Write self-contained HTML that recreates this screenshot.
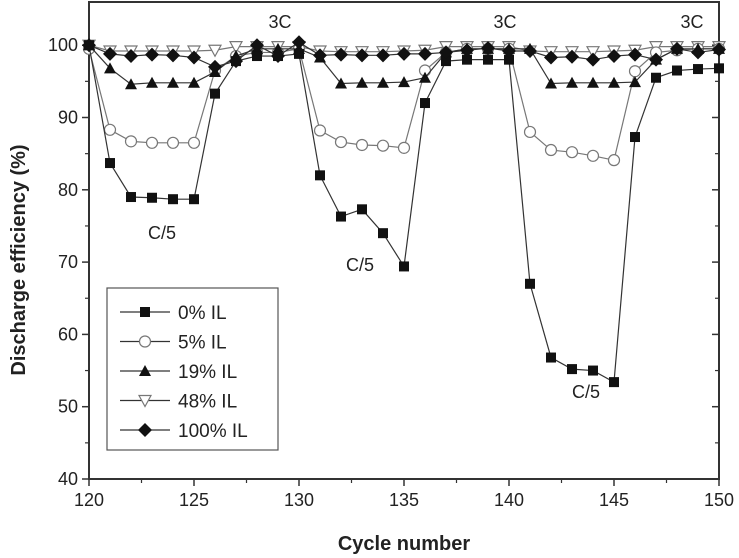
<!DOCTYPE html>
<html><head><meta charset="utf-8"><style>
body{margin:0;background:#fff}
svg{display:block;font-family:"Liberation Sans",sans-serif}
</style></head><body>
<svg id="c" width="739" height="558"></svg>
<script>
const cycles=[120,121,122,123,124,125,126,127,128,129,130,131,132,133,134,135,136,137,138,139,140,141,142,143,144,145,146,147,148,149,150];
const s0=[100,83.7,79,78.9,78.7,78.7,93.3,97.8,98.5,98.5,98.8,82,76.3,77.3,74,69.4,92,97.8,98,98,98,67,56.8,55.2,55,53.4,87.3,95.5,96.5,96.7,96.8];
const s5=[99.5,88.3,86.7,86.5,86.5,86.5,96.5,98.5,99,99,99.5,88.2,86.6,86.2,86.1,85.8,96.5,99,99.5,99.5,99.5,88,85.5,85.2,84.7,84.1,96.4,99,99.3,99.5,99.5];
const s19=[100,96.8,94.6,94.8,94.8,94.8,96.3,98.5,99.5,99.5,99.5,98.3,94.7,94.8,94.8,94.9,95.5,99,99.5,99.5,99.5,99.5,94.7,94.8,94.8,94.8,94.9,98,99.5,99.5,99.5];
const s48=[100,99.2,99.2,99.2,99.2,99.2,99.3,99.8,99.8,99.8,99.8,99.2,99.1,99.1,99.1,99.2,99.3,99.8,99.8,99.8,99.8,99.2,99.1,99.1,99.1,99.2,99.3,99.8,99.8,99.8,99.8];
const s100=[100,98.8,98.5,98.7,98.6,98.3,97,97.8,100,98.5,100.4,98.6,98.7,98.6,98.6,98.8,98.8,99,99.3,99.6,99.2,99.2,98.3,98.4,98,98.5,98.7,98,99.5,99,99.4];
const xTicks=[120,125,130,135,140,145,150];
const yTicks=[40,50,60,70,80,90,100];
const seriesNames=["0% IL","5% IL","19% IL","48% IL","100% IL"];
const seriesData=[s0,s5,s19,s48,s100];
const markers=["square","circle","triangle","tridown","diamond"];

const NS="http://www.w3.org/2000/svg";
const svg=document.getElementById('c');
const X=v=>89+(v-120)*21;
const Y=v=>479-(v-40)*7.23;
function el(t,a,p){const e=document.createElementNS(NS,t);for(const k in a)e.setAttribute(k,a[k]);(p||svg).appendChild(e);return e;}

const frame=el('rect',{x:89,y:2,width:630,height:477,fill:'none',stroke:'#333','stroke-width':2});



xTicks.forEach(t=>{
  const l=el('line',{x1:X(t),x2:X(t),y1:479,y2:486,stroke:'#333','stroke-width':1.5});
  
  
  const tx=el('text',{x:X(t),y:506,'text-anchor':'middle','font-size':18,fill:'#222'});
  tx.textContent=t;
  
  
});
for(let t=122.5;t<150;t+=5){el('line',{x1:X(t),x2:X(t),y1:479,y2:483,stroke:'#333','stroke-width':1.2});}
yTicks.forEach(t=>{
  const l=el('line',{x1:82,x2:89,y1:Y(t),y2:Y(t),stroke:'#333','stroke-width':1.5});
  
  
  el('line',{x1:712,x2:719,y1:Y(t),y2:Y(t),stroke:'#333','stroke-width':1.5});
  const tx=el('text',{x:78,y:Y(t)+6,'text-anchor':'end','font-size':18,fill:'#222'});
  tx.textContent=t;
  
  
});
for(let t=45;t<100;t+=10){el('line',{x1:85,x2:89,y1:Y(t),y2:Y(t),stroke:'#333','stroke-width':1.2});el('line',{x1:715,x2:719,y1:Y(t),y2:Y(t),stroke:'#333','stroke-width':1.2});}

function marker(type,x,y,g){
  const s=5;
  if(type==='square')return el('rect',{x:x-s,y:y-s,width:2*s,height:2*s,fill:'#111'},g);
  if(type==='circle')return el('circle',{cx:x,cy:y,r:5.5,fill:'#fff',stroke:'#777','stroke-width':1.2},g);
  if(type==='triangle')return el('polygon',{points:`${x},${y-6} ${x-6},${y+5} ${x+6},${y+5}`,fill:'#111'},g);
  if(type==='tridown')return el('polygon',{points:`${x-6},${y-5} ${x+6},${y-5} ${x},${y+6}`,fill:'#fff',stroke:'#777','stroke-width':1.2},g);
  return el('polygon',{points:`${x},${y-7} ${x+7},${y} ${x},${y+7} ${x-7},${y}`,fill:'#111'},g);
}
[3,1,2,0,4].forEach(i=>{
  const g=el('g',{});
  
  
  const d=seriesData[i];
  el('polyline',{points:cycles.map((c,j)=>X(c)+','+Y(d[j])).join(' '),fill:'none',stroke:i===1||i===3?'#777':'#333','stroke-width':1.2},g);
  cycles.forEach((c,j)=>{const m=marker(markers[i],X(c),Y(d[j]),g);
    
    });
});

[[280,22,'3C'],[505,22,'3C'],[692,22,'3C'],[162,233,'C/5'],[360,265,'C/5'],[586,392,'C/5']].forEach(a=>{
  const t=el('text',{x:a[0],y:a[1]+6,'text-anchor':'middle','font-size':18,fill:'#222'});t.textContent=a[2];
  
  
});

const lg=el('g',{});


el('rect',{x:107,y:288,width:171,height:162,fill:'#fff',stroke:'#555','stroke-width':1.2},lg);
seriesNames.forEach((n,i)=>{
  const y=312+i*29.5;
  const e=el('g',{},lg);
  
  
  el('line',{x1:120,x2:170,y1:y,y2:y,stroke:'#333','stroke-width':1.2},e);
  marker(markers[i],145,y,e);
  const t=el('text',{x:178,y:y+7,'font-size':19,fill:'#222'},e);t.textContent=n;
});

const yl=el('text',{x:0,y:0,transform:'translate(25,260) rotate(-90)','text-anchor':'middle','font-size':20,'font-weight':'bold',fill:'#222'});
yl.textContent='Discharge efficiency (%)';


const xl=el('text',{x:404,y:550,'text-anchor':'middle','font-size':20,'font-weight':'bold',fill:'#222'});
xl.textContent='Cycle number';


</script>
</body></html>
